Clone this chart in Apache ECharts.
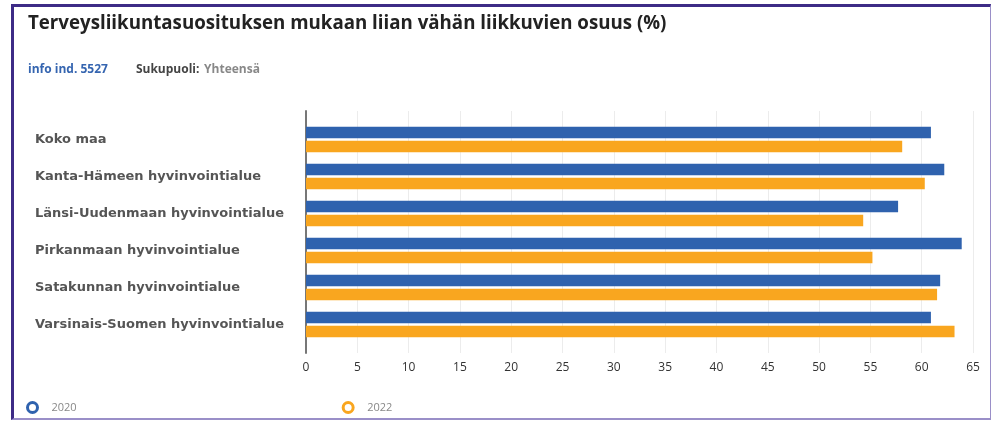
<!DOCTYPE html>
<html>
<head>
<meta charset="utf-8">
<script src="https://cdn.jsdelivr.net/npm/echarts@6/dist/echarts.min.js"></script>
<style>
  body { margin: 0; background: #fff; }
  #chart { width: 993px; height: 421px; }
  #frame {
    position: absolute; left: 11px; top: 4px; width: 976px; height: 411px;
    border-top: 3px solid #3d2b86; border-left: 3px solid #3d2b86;
    border-right: 1px solid #9a8fc8; border-bottom: 2px solid #9a8fc8;
    pointer-events: none;
  }
</style>
</head>
<body>
<div id="chart"></div>
<div id="frame"></div>
<script>
const categories = [
  "Koko maa",
  "Kanta-Hämeen hyvinvointialue",
  "Länsi-Uudenmaan hyvinvointialue",
  "Pirkanmaan hyvinvointialue",
  "Satakunnan hyvinvointialue",
  "Varsinais-Suomen hyvinvointialue",
];
const values2020 = [60.9, 62.2, 57.7, 63.9, 61.8, 60.9];
const values2022 = [58.1, 60.3, 54.3, 55.2, 61.5, 63.2];

var chart = echarts.init(document.getElementById("chart"));
var option = {
  backgroundColor: "#fff",
  animation: false,
  textStyle: { fontFamily: "Open Sans" },
  title: [
    {
      text: "Terveysliikuntasuosituksen mukaan liian vähän liikkuvien osuus (%)",
      left: 23,
      top: 9,
      textStyle: { fontSize: 18.7, fontWeight: "bold", color: "#222" },
    },
    {
      text: "{a|info ind. 5527}      {b|Sukupuoli:} {c|Yhteensä}",
      left: 23,
      top: 56,
      textStyle: {
        rich: {
          a: { fontSize: 12, fontWeight: "bold", color: "#3565b0" },
          b: { fontSize: 12, fontWeight: "bold", color: "#444" },
          c: { fontSize: 12, color: "#888" },
        },
      },
    },
  ],
  legend: {
    left: 21,
    top: 396,
    itemGap: 265,
    itemWidth: 10,
    itemHeight: 10,
    icon: "circle",
    textStyle: { fontSize: 11, color: "#888", padding: [0, 0, 0, 9] },
    data: [
      { name: "2020", itemStyle: { color: "#fff", borderColor: "#2f62ae", borderWidth: 3 } },
      { name: "2022", itemStyle: { color: "#fff", borderColor: "#f9a61f", borderWidth: 3 } },
    ],
  },
  grid: [
    { left: 306, top: 121, width: 667, height: 222 },
    { left: 306, top: 111, width: 667, height: 242 },
  ],
  xAxis: [
    { gridIndex: 0, type: "value", min: 0, max: 65, interval: 5, show: false },
    {
      gridIndex: 1,
      type: "value",
      min: 0,
      max: 65,
      interval: 5,
      axisLine: { show: false },
      axisTick: { show: false },
      axisLabel: { color: "#333", fontSize: 12, margin: 9 },
      splitLine: { lineStyle: { color: "#ececec" } },
    },
  ],
  yAxis: [
    {
      gridIndex: 0,
      type: "category",
      data: categories,
      inverse: true,
      axisLine: { show: false },
      axisTick: { show: false },
      axisLabel: {
        align: "left",
        margin: 271,
        color: "#555",
        fontFamily: "DejaVu Sans",
        fontSize: 13,
        fontWeight: "bold",
      },
    },
    {
      gridIndex: 1,
      type: "category",
      data: categories,
      axisLine: { lineStyle: { color: "#777", width: 2 } },
      axisTick: { show: false },
      axisLabel: { show: false },
    },
  ],
  series: [
    {
      name: "2020",
      type: "bar",
      xAxisIndex: 0,
      yAxisIndex: 0,
      data: values2020,
      barWidth: 11.5,
      barGap: "20%",
      itemStyle: { color: "#2f62ae" },
    },
    {
      name: "2022",
      type: "bar",
      xAxisIndex: 0,
      yAxisIndex: 0,
      data: values2022,
      barWidth: 11.5,
      barGap: "20%",
      itemStyle: { color: "#f9a61f" },
    },
  ],
};
option && chart.setOption(option);
</script>
</body>
</html>
